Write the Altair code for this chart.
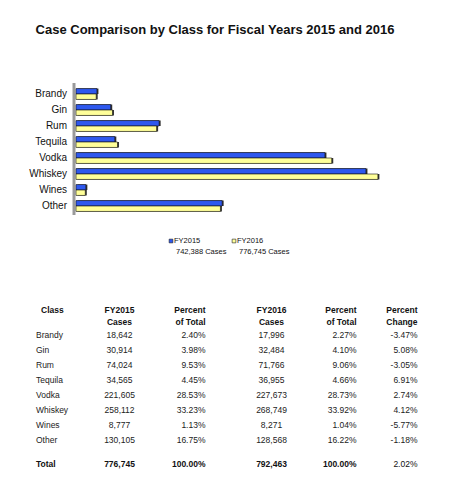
import altair as alt
import pandas as pd

FONT = "Liberation Sans"

title_text = "Case Comparison by Class for Fiscal Years 2015 and 2016"
classes = ["Brandy", "Gin", "Rum", "Tequila", "Vodka", "Whiskey", "Wines", "Other"]
series = ["FY2015", "FY2016"]
series_notes = ["742,388 Cases", "776,745 Cases"]
series_colors = ["#2e58ee", "#ffff99"]

fy2015_cases = [18642, 30914, 74024, 34565, 221605, 258112, 8777, 130105]
fy2016_cases = [17996, 32484, 71766, 36955, 227673, 268749, 8271, 128568]
fy2015_pct = ["2.40%", "3.98%", "9.53%", "4.45%", "28.53%", "33.23%", "1.13%", "16.75%"]
fy2016_pct = ["2.27%", "4.10%", "9.06%", "4.66%", "28.73%", "33.92%", "1.04%", "16.22%"]
pct_change = ["-3.47%", "5.08%", "-3.05%", "6.91%", "2.74%", "4.12%", "-5.77%", "-1.18%"]
total_row = ["Total", "776,745", "100.00%", "792,463", "100.00%", "2.02%"]
headers = ["Class", "FY2015\nCases", "Percent\nof Total", "FY2016\nCases", "Percent\nof Total", "Percent\nChange"]

# long table for the bars
bar_df = pd.DataFrame({
    "class": classes * 2,
    "series": [series[0]] * len(classes) + [series[1]] * len(classes),
    "cases": fy2015_cases + fy2016_cases,
})

table_df = pd.DataFrame({
    "c0": classes,
    "c1": [f"{v:,}" for v in fy2015_cases],
    "c2": fy2015_pct,
    "c3": [f"{v:,}" for v in fy2016_cases],
    "c4": fy2016_pct,
    "c5": pct_change,
})

legend_df = pd.DataFrame({"series": series, "note": series_notes})

# column x (px) and alignment of the table
col_x = [28, 111.5, 197.5, 263.5, 348.5, 409.5]
col_align = ["left", "center", "right", "center", "right", "right"]

band_y = alt.Scale(domain=classes, range=[78, 206], paddingInner=0.32, paddingOuter=0.16)
row_y = alt.Scale(type="point", domain=classes, range=[327, 432], padding=0)
x_cases = alt.Scale(domain=[0, 300000], range=[68, 405])
color_scale = alt.Scale(domain=series, range=series_colors)

title = (alt.Chart(pd.DataFrame({"t": [title_text]}))
         .mark_text(font=FONT, fontSize=13, fontWeight="bold", color="#111")
         .encode(text="t:N", x=alt.value(207), y=alt.value(22)))

wall = (alt.Chart(pd.DataFrame({"a": [0]}))
        .mark_rule(color="#9a9a9a", strokeWidth=3)
        .encode(x=alt.value(66), y=alt.value(75), y2=alt.value(207)))

bar_base = alt.Chart(bar_df).encode(
    x=alt.X("cases:Q", scale=x_cases, axis=None),
    y=alt.Y("class:N", scale=band_y, axis=None),
    yOffset=alt.YOffset("series:N", sort=series),
)
shadow = bar_base.mark_bar(color="#333", xOffset=1.5, x2Offset=1.5, yOffset=1, y2Offset=1)
bars = bar_base.mark_bar(stroke="#111", strokeWidth=0.6).encode(
    color=alt.Color("series:N", scale=color_scale, legend=None))

cat_labels = (alt.Chart(pd.DataFrame({"class": classes}))
              .mark_text(font=FONT, fontSize=10, align="right", baseline="middle", color="#111")
              .encode(y=alt.Y("class:N", scale=band_y, axis=None), x=alt.value(59), text="class:N"))

legend_x = alt.X("series:N", scale=alt.Scale(type="point", domain=series, range=[163, 226], padding=0), axis=None)
leg_sq = (alt.Chart(legend_df)
          .mark_square(size=14, stroke="#222", strokeWidth=0.6, opacity=1)
          .encode(x=legend_x, y=alt.value(233),
                  color=alt.Color("series:N", scale=color_scale, legend=None)))
leg_name = (alt.Chart(legend_df)
            .mark_text(font=FONT, fontSize=7.5, align="left", baseline="middle", dx=3, color="#111")
            .encode(x=legend_x, y=alt.value(233), text="series:N"))
leg_note = (alt.Chart(legend_df)
            .mark_text(font=FONT, fontSize=7.5, align="left", baseline="middle", dx=5, color="#111")
            .encode(x=legend_x, y=alt.value(244), text="note:N"))

layers = [title, wall, shadow, bars, cat_labels, leg_sq, leg_name, leg_note]

for i, (x, align) in enumerate(zip(col_x, col_align)):
    head_x = x + 5 if i == 0 else x
    layers.append(
        alt.Chart(pd.DataFrame({"h": [headers[i]]}))
        .mark_text(font=FONT, fontSize=8.5, fontWeight="bold", align=align,
                   baseline="middle", lineBreak="\n", lineHeight=12, color="#111")
        .encode(x=alt.value(head_x), y=alt.value(302), text="h:N"))
    layers.append(
        alt.Chart(table_df)
        .mark_text(font=FONT, fontSize=8.5, align=align, baseline="middle", color="#222")
        .encode(x=alt.value(x), y=alt.Y("c0:N", scale=row_y, axis=None), text=f"c{i}:N"))
    layers.append(
        alt.Chart(pd.DataFrame({"v": [total_row[i]]}))
        .mark_text(font=FONT, fontSize=8.5, align=align, baseline="middle",
                   fontWeight="normal" if i == 5 else "bold", color="#111")
        .encode(x=alt.value(x), y=alt.value(456), text="v:N"))

chart = (alt.layer(*layers)
         .resolve_scale(x="independent", y="independent", color="independent")
         .properties(width=435, height=484, padding=0, autosize="none")
         .configure_view(strokeWidth=0))

chart.save("out.html", embed_options={"renderer": "svg", "actions": False})
